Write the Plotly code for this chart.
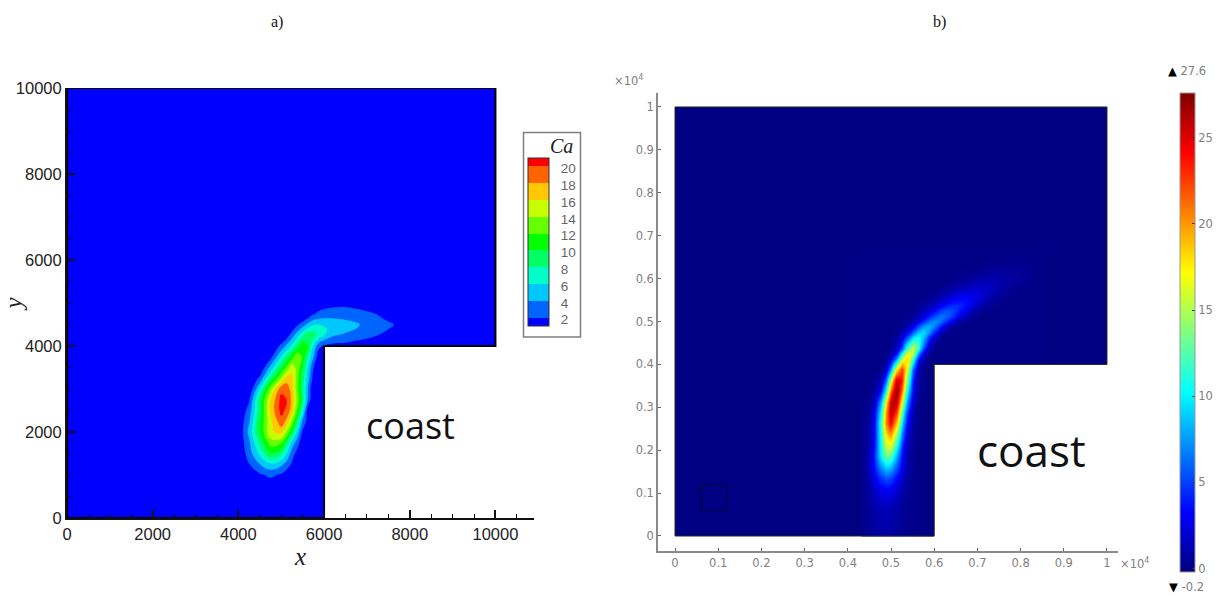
import plotly.graph_objects as go

W, H = 1227, 596

# ---------- panel a: concentration ----------
a_x = [3750, 4000, 4250, 4500, 4750, 5000, 5125, 5250, 5375, 5500, 5625, 5750, 5875, 6000,
       6250, 6500, 6750, 7000, 7250, 7500, 7750, 8000]
a_y = [750, 1000, 1250, 1500, 1750, 2000, 2250, 2500, 2750, 3000, 3250, 3500,
       3750, 4000, 4250, 4375, 4500, 4625, 4750, 5000, 5250]
a_rows = [
    [0, 0, 0, 0.3, 0.8, 0.3, 0],
    [0, 0, 0, 1.7, 2.4, 1.7, 0.7, 0],
    [0, 0, 1.9, 4, 5.7, 4.5, 3.2, 1.7, 0.6, 0],
    [0, 0, 3, 6.5, 9.9, 8.5, 6, 3, 1.2, 0],
    [0, 0.2, 3.6, 8.3, 13.1, 12.3, 9, 5.3, 2.9, 0.5, 0],
    [0, 0, 4.6, 10, 15.5, 16.8, 13.8, 10, 5.5, 1.7, 0.2, 0],
    [0, 0, 3.8, 10, 15.5, 19.3, 17.5, 13.8, 8.8, 3.5, 1, 0],
    [0, 0, 2.8, 9, 16.5, 20.7, 19.5, 17, 12, 7, 0.5, 0],
    [0, 0, 1.7, 8.9, 16, 20.7, 20, 17.5, 13.5, 9, 3.5, 0],
    [0, 0, 0, 6.1, 13.3, 19.4, 19.3, 17, 12.8, 8.3, 3.9, 0],
    [0, 0, 0, 2.4, 8.5, 14, 16.8, 16.5, 13, 9, 5, 1.2, 0],
    [0, 0, 0, 0, 4.6, 9.7, 12.5, 15.3, 13.3, 10, 6, 2.1, 0],
    [0, 0, 0, 0, 1.2, 6.1, 8.5, 11, 13.8, 11.5, 7.7, 4.2, 0.7, 0],
    [0, 0, 0, 0, 0, 2.5, 4.4, 6.5, 9, 11.5, 10, 6, 2.6, 1.8, 1.3, 1.3, 1, 0.8, 0.3, 0],
    [0, 0, 0, 0, 0, 0, 0.9, 3, 5.2, 7.5, 9.8, 8.8, 7.6, 6, 4.1, 3.7, 3, 2.5, 2, 0.7, 0],
    [0, 0, 0, 0, 0, 0, 0, 1.5, 3.3, 5.2, 7, 7.4, 6.9, 6.4, 5, 4.4, 3.9, 3.3, 2.8, 1.9, 0.6, 0],
    [0, 0, 0, 0, 0, 0, 0, 0.5, 1.7, 3, 4.6, 5.8, 6, 5.7, 5.1, 4.6, 4.3, 3.4, 2.9, 2.5, 1.5, 0],
    [0, 0, 0, 0, 0, 0, 0, 0, 0, 1, 2.3, 3.6, 4.1, 4.2, 4.1, 3.9, 3.5, 3, 2.5, 1.6, 0.4, 0],
    [0, 0, 0, 0, 0, 0, 0, 0, 0, 0, 0.5, 1.7, 2.5, 2.9, 3.2, 3.1, 2.8, 2.4, 1.9, 0.7, 0],
    [0, 0, 0, 0, 0, 0, 0, 0, 0, 0, 0, 0, 0.5, 0.8, 1.2, 1.3, 1.1, 0.7, 0.2, 0],
    [0],
]
a_levels = [2, 4, 6, 8, 10, 12, 14, 16, 18, 20]
a_band_colors = ["#0000ff", "#0064ff", "#00c8ff", "#00ffc8", "#00ff64", "#00ff00",
                 "#64ff00", "#c8ff00", "#ffc800", "#ff6400", "#ff0000"]
a_xticks = [0, 2000, 4000, 6000, 8000, 10000]
a_yticks = [0, 2000, 4000, 6000, 8000, 10000]
# flow domain and the coast cut out of it
a_domain_x = [0, 6000, 6000, 10000, 10000, 0, 0]
a_domain_y = [0, 0, 4000, 4000, 10000, 10000, 0]
a_coast_x = [6000, 10020, 10020, 6000, 6000]
a_coast_y = [-20, -20, 4000, 4000, -20]

# ---------- panel b: concentration from the smooth shaded plot ----------
b_x0, b_dx, b_ncols = 0.4375, 0.0125, 34
b_y = [0.0125, 0.0375, 0.0625, 0.0875, 0.1125, 0.1375, 0.1625, 0.1875, 0.2125,
       0.2375, 0.2625, 0.2875, 0.3125, 0.3375, 0.3625, 0.3875, 0.4125, 0.425, 0.4375,
       0.45, 0.4625, 0.475, 0.4875, 0.5, 0.5125, 0.525, 0.5375, 0.55, 0.5625, 0.575,
       0.5875, 0.6, 0.6125, 0.6375, 0.6625]
b_rows = [
    [.1, .44, .67, .84, .9, .81, .61, .39, .21, .1, .05, .02],
    [.12, .54, .81, 1.02, 1.1, .99, .75, .47, .25, .12, .05, .02],
    [.12, .59, .95, 1.27, 1.4, 1.26, .92, .56, .28, .11, .04],
    [.15, .81, 1.41, 1.96, 2.2, 2.0, 1.45, .86, .42, .15, .04],
    [.2, 1.05, 2.0, 3.0, 3.5, 3.2, 2.24, 1.24, .53, .18, .05],
    [.2, 1.28, 2.84, 4.7, 5.74, 5.28, 3.6, 1.83, .68, .2, .04],
    [.25, 1.66, 4.04, 7.24, 9.3, 8.65, 5.83, 2.82, 1.02, .25, .05],
    [.2, 1.54, 4.7, 9.8, 13.7, 12.9, 8.3, 3.6, 1.04, .21, .03],
    [.1, 1.05, 4.06, 10.1, 16.2, 16.9, 11.5, 5.0, 1.4, .26],
    [.1, .96, 3.9, 10.5, 18, 20.2, 14.7, 7, 2.1, .41, .06],
    [.1, .88, 3.87, 11, 20.5, 24.5, 19, 9.6, 3.1, .66, .1],
    [.08, .64, 3.05, 9.7, 19.9, 26.4, 22.8, 12.7, 4.6, 1.06, .16],
    [.03, .36, 2.0, 7.3, 17.2, 26.1, 26, 16.8, 6.9, 1.87, .33],
    [0, .08, .63, 3.3, 10.9, 21.8, 27.3, 21, 10, 2.95, .55, .05],
    [0, 0, .16, 1.25, 5.8, 16.2, 25.6, 23.7, 12.9, 4, .74, .08],
    [0, 0, 0, .2, 1.7, 7.5, 17.7, 23, 16.1, 6.1, 1.3, .14],
    [0, 0, 0, 0, .29, 2.1, 7.6, 16.2, 18.5, 11.6, 3.9, .7, .08],
    [0, 0, 0, 0, .07, .68, 3.5, 10.3, 16.9, 15.6, 8.1, 2.4, .39, .05],
    [0, 0, 0, 0, 0, .21, 1.42, 5.4, 12.2, 16, 12.2, 5.4, 1.42, .21],
    [0, 0, 0, 0, 0, .19, 1.1, 3.9, 9.1, 13.2, 12.1, 7.1, 2.6, .6, .09],
    [0, 0, 0, 0, 0, .11, .62, 2.2, 5.5, 9.5, 11, 8.6, 4.5, 1.65, .37, .07],
    [0, 0, 0, 0, 0, 0, .25, .96, 2.8, 5.8, 8.6, 9.5, 7.4, 4.2, 1.75, .53, .1],
    [0, 0, 0, 0, 0, 0, .09, .36, 1.1, 2.8, 5.2, 7.5, 8.2, 6.8, 4.2, 2.05, .74, .21, .05],
    [0, 0, 0, 0, 0, 0, 0, .15, .46, 1.2, 2.6, 4.6, 6.4, 7.3, 6.6, 4.9, 2.9, 1.45, .54, .17, .05],
    [0, 0, 0, 0, 0, 0, 0, .05, .17, .49, 1.17, 2.34, 3.9, 5.4, 6.4, 6.3, 5.3, 3.7, 2.2, 1.04, .46, .16, .05],
    [0, 0, 0, 0, 0, 0, 0, 0, .08, .24, .6, 1.2, 2.2, 3.4, 4.6, 5.4, 5.4, 4.7, 3.6, 2.4, 1.3, .66, .28, .11],
    [0, 0, 0, 0, 0, 0, 0, 0, 0, .12, .28, .61, 1.15, 1.93, 2.84, 3.74, 4.34, 4.5, 4.1, 3.3, 2.4, 1.5, .86, .43, .19, .07],
    [0, 0, 0, 0, 0, 0, 0, 0, 0, 0, .12, .25, .53, .95, 1.55, 2.25, 2.9, 3.4, 3.6, 3.4, 2.9, 2.2, 1.5, .9, .49, .25, .11, .04],
    [0, 0, 0, 0, 0, 0, 0, 0, 0, 0, 0, 0, .22, .42, .73, 1.15, 1.7, 2.2, 2.6, 2.8, 2.7, 2.4, 1.93, 1.4, .91, .56, .31, .15, .07],
    [0, 0, 0, 0, 0, 0, 0, 0, 0, 0, 0, 0, .08, .16, .31, .52, .82, 1.19, 1.56, 1.87, 2.06, 2.08, 1.92, 1.63, 1.26, .9, .59, .35, .19, .09],
    [0, 0, 0, 0, 0, 0, 0, 0, 0, 0, 0, 0, 0, 0, .1, .2, .34, .53, .76, 1, 1.24, 1.42, 1.5, 1.46, 1.32, 1.1, .86, .62, .42, .25, .14, .07],
    [0, 0, 0, 0, 0, 0, 0, 0, 0, 0, 0, 0, 0, 0, 0, .07, .12, .21, .32, .45, .62, .78, .92, 1.02, 1.05, 1.01, .91, .77, .6, .45, .3, .2],
    [0, 0, 0, 0, 0, 0, 0, 0, 0, 0, 0, 0, 0, 0, 0, 0, 0, .06, .1, .16, .24, .34, .45, .55, .63, .69, .7, .67, .6, .51, .4, .3],
    [0, 0, 0, 0, 0, 0, 0, 0, 0, 0, 0, 0, 0, 0, 0, 0, 0, 0, 0, 0, 0, .03, .04, .06, .09, .12, .15, .18, .2, .2, .2, .18],
    [0],
]
b_min, b_max = -0.2, 27.6
b_cbar_ticks = [0, 5, 10, 15, 20, 25]
b_ticks = [0, 0.1, 0.2, 0.3, 0.4, 0.5, 0.6, 0.7, 0.8, 0.9, 1]
b_ticktext = ["0", "0.1", "0.2", "0.3", "0.4", "0.5", "0.6", "0.7", "0.8", "0.9", "1"]
b_domain_x = [0, 0.6, 0.6, 1, 1, 0, 0]
b_domain_y = [0, 0, 0.4, 0.4, 1, 1, 0]
b_coast_x = [0.6, 1.002, 1.002, 0.6, 0.6]
b_coast_y = [-0.004, -0.004, 0.4, 0.4, -0.004]
b_box_x = [0.06, 0.12, 0.12, 0.06, 0.06]
b_box_y = [0.06, 0.06, 0.12, 0.12, 0.06]


def pad(rows, n):
    return [r + [0] * (n - len(r)) for r in rows]


def px(x):
    return x / W


def py(y):
    return 1 - y / H


# colour for each band sits at the middle of that band
a_scale = [[i / (len(a_band_colors) - 1), c] for i, c in enumerate(a_band_colors)]
b_scale = [[0, "#00007f"], [0.125, "#0000ff"], [0.375, "#00ffff"],
           [0.625, "#ffff00"], [0.875, "#ff0000"], [1, "#7f0000"]]

GREY = "#808080"
fig = go.Figure()

# panel a
fig.add_trace(go.Contour(
    x=a_x, y=a_y, z=pad(a_rows, len(a_x)), zmin=1, zmax=21, colorscale=a_scale,
    contours=dict(coloring="fill", start=a_levels[0], end=a_levels[-1], size=2, showlines=False),
    line=dict(width=0, smoothing=1.3),
    colorbar=dict(
        x=px(528), xanchor="left", y=py(157.7), yanchor="top", xpad=0, ypad=0,
        lenmode="pixels", len=168, thicknessmode="pixels", thickness=21,
        tickvals=[v - 0.28 for v in a_levels], ticktext=[str(v) for v in a_levels],
        ticks="outside", ticklen=9, tickcolor="rgba(0,0,0,0)",
        tickfont=dict(family="Liberation Sans", size=13.5, color="#666666"),
        outlinecolor="#333333", outlinewidth=1, borderwidth=0),
))
fig.add_trace(go.Scatter(x=a_coast_x, y=a_coast_y, fill="toself", fillcolor="white",
                         mode="none", hoverinfo="skip", showlegend=False))
fig.add_trace(go.Scatter(x=a_domain_x, y=a_domain_y, mode="lines",
                         line=dict(color="#000000", width=2), hoverinfo="skip", showlegend=False))

# panel b
fig.add_trace(go.Heatmap(
    x0=b_x0, dx=b_dx, y=b_y, z=pad(b_rows, b_ncols), xaxis="x2", yaxis="y2",
    zmin=b_min, zmax=b_max, colorscale=b_scale, zsmooth="best",
    colorbar=dict(
        x=px(1180), xanchor="left", y=py(93), yanchor="top", xpad=0, ypad=0,
        lenmode="pixels", len=478.7, thicknessmode="pixels", thickness=15,
        tickvals=b_cbar_ticks, ticks="inside", ticklen=3, tickcolor="#333333",
        tickfont=dict(family="DejaVu Sans", size=11.5, color=GREY),
        outlinecolor="#999999", outlinewidth=1, borderwidth=0),
))
fig.add_trace(go.Scatter(x=b_coast_x, y=b_coast_y, xaxis="x2", yaxis="y2", fill="toself",
                         fillcolor="white", mode="none", hoverinfo="skip", showlegend=False))
fig.add_trace(go.Scatter(x=b_domain_x, y=b_domain_y, xaxis="x2", yaxis="y2", mode="lines",
                         line=dict(color="#222222", width=1), hoverinfo="skip", showlegend=False))
fig.add_trace(go.Scatter(x=b_box_x, y=b_box_y, xaxis="x2", yaxis="y2", mode="lines",
                         line=dict(color="#00003a", width=1), hoverinfo="skip", showlegend=False))

a_tick_font = dict(family="Liberation Sans", size=16.5, color="#222222")
b_tick_font = dict(family="DejaVu Sans", size=11.5, color=GREY)
serif_title = dict(family="Liberation Serif", size=25, color="#222222", style="italic")


def text(x, y, s, **kw):
    font = kw.pop("font")
    return dict(x=px(x), y=py(y), xref="paper", yref="paper", text=s, showarrow=False,
                xanchor="center", yanchor="middle", font=font, **kw)


fig.update_layout(
    width=W, height=H, autosize=False, margin=dict(l=0, r=0, t=0, b=0, pad=0, autoexpand=False),
    paper_bgcolor="white", plot_bgcolor="white", showlegend=False,
    xaxis=dict(domain=[px(67), px(534)], range=[0, 10900], anchor="y", showgrid=False, zeroline=False,
               tickvals=a_xticks, tickformat="d", ticks="inside", ticklen=8, tickwidth=1.5, tickcolor="#111111",
               minor=dict(ticks="inside", ticklen=4, dtick=500, tick0=0, tickcolor="#111111", tickwidth=1),
               showline=True, linecolor="#111111", linewidth=2, tickfont=a_tick_font,
               title=dict(text="x", font=serif_title, standoff=3)),
    yaxis=dict(domain=[py(518), py(88)], range=[0, 10000], anchor="x", showgrid=False, zeroline=False,
               tickvals=a_yticks, tickformat="d", ticks="inside", ticklen=8, tickwidth=1.5, tickcolor="#111111",
               minor=dict(ticks="inside", ticklen=4, dtick=500, tick0=0, tickcolor="#111111", tickwidth=1),
               showline=True, linecolor="#111111", linewidth=2, tickfont=a_tick_font,
               title=dict(text="y", font=serif_title, standoff=4)),
    xaxis2=dict(domain=[px(658), px(1118)], range=[-0.0394, 1.0255], anchor="y2", showgrid=False, zeroline=False,
                tickvals=b_ticks, ticktext=b_ticktext, ticks="inside", ticklen=3, tickwidth=1, tickcolor="#666666",
                showline=True, linecolor="#8a8a8a", linewidth=1.5, tickfont=b_tick_font),
    yaxis2=dict(domain=[py(551), py(93)], range=[-0.035, 1.0326], anchor="x2", showgrid=False, zeroline=False,
                tickvals=b_ticks, ticktext=b_ticktext, ticks="inside", ticklen=3, tickwidth=1, tickcolor="#666666",
                showline=True, linecolor="#8a8a8a", linewidth=1.5, tickfont=b_tick_font),
    shapes=[
        dict(type="rect", xref="paper", yref="paper", x0=px(523.5), x1=px(580.5), y0=py(337), y1=py(132.5),
             line=dict(color="#808080", width=1.5), layer="below"),
        dict(type="rect", xref="x", yref="y", x0=0, x1=10000, y0=0, y1=10000,
             fillcolor="#0000ff", line=dict(width=0), layer="below"),
        dict(type="rect", xref="x2", yref="y2", x0=0, x1=1, y0=0, y1=1,
             fillcolor="#000082", line=dict(width=0), layer="below"),
    ],
    annotations=[
        text(277, 22, "a)", font=dict(family="Liberation Serif", size=16, color="#111111")),
        text(939, 22, "b)", font=dict(family="Liberation Serif", size=16, color="#111111")),
        text(410, 425, "coast", font=dict(family="Open Sans", size=36, color="#111111")),
        text(1031, 450, "coast", font=dict(family="Open Sans", size=44, color="#111111")),
        text(561, 146, "Ca", font=dict(family="Liberation Serif", size=20, color="#222222", style="italic")),
        text(628, 80, "×10<sup>4</sup>", font=dict(family="DejaVu Sans", size=11.5, color=GREY)),
        text(1134, 563, "×10<sup>4</sup>", font=dict(family="DejaVu Sans", size=11.5, color=GREY)),
        text(1187, 71, "<span style='color:#000'>▲</span> 27.6", font=dict(family="DejaVu Sans", size=11.5, color=GREY)),
        text(1186, 587, "<span style='color:#000'>▼</span> -0.2", font=dict(family="DejaVu Sans", size=11.5, color=GREY)),
    ],
)

fig.write_html("out.html", config={"displayModeBar": False},
               post_script="document.body.style.margin='0';")
